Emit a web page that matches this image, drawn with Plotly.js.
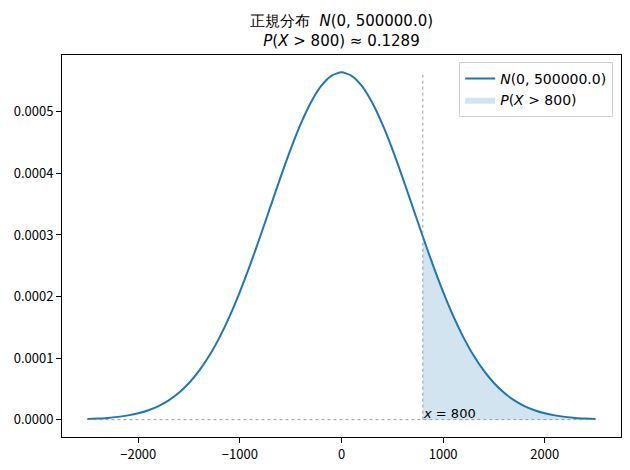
<!DOCTYPE html>
<html>
<head>
<meta charset="utf-8">
<script src="https://cdn.plot.ly/plotly-3.0.1.min.js"></script>
<style>
  html, body { margin: 0; padding: 0; background: #fff; }
  #chart { width: 630px; height: 470px; }
</style>
</head>
<body>
<div id="chart"></div>
<script>
// x positions and density values
const xVals = [
    -2500, -2400, -2300, -2200, -2100, -2000, -1900, -1800, -1700, -1600,
    -1500, -1400, -1300, -1200, -1100, -1000, -900, -800, -700, -600,
    -500, -400, -300, -200, -100, 0, 100, 200, 300, 400,
    500, 600, 700, 800, 900, 1000, 1100, 1200, 1300, 1400,
    1500, 1600, 1700, 1800, 1900, 2000, 2100, 2200, 2300, 2400, 2500
];
const density = [
    0.0000011, 0.0000018, 0.0000028, 0.0000045, 0.0000069, 0.0000103, 0.0000153, 0.0000221, 0.0000314, 0.0000436,
    0.0000595, 0.0000795, 0.0001041, 0.0001337, 0.0001682, 0.0002076, 0.0002510, 0.0002975, 0.0003456, 0.0003936,
    0.0004394, 0.0004808, 0.0005156, 0.0005421, 0.0005586, 0.0005642, 0.0005586, 0.0005421, 0.0005156, 0.0004808,
    0.0004394, 0.0003936, 0.0003456, 0.0002975, 0.0002510, 0.0002076, 0.0001682, 0.0001337, 0.0001041, 0.0000795,
    0.0000595, 0.0000436, 0.0000314, 0.0000221, 0.0000153, 0.0000103, 0.0000069, 0.0000045, 0.0000028, 0.0000018, 0.0000011
];
const threshold = 800;
const tailProb = 0.1289;

const xTickVals = [-2000, -1000, 0, 1000, 2000];
const xTickText = ["\u22122000", "\u22121000", "0", "1000", "2000"];
const yTickVals = [0, 0.0001, 0.0002, 0.0003, 0.0004, 0.0005];
const yTickText = ["0.0000", "0.0001", "0.0002", "0.0003", "0.0004", "0.0005"];

const blue = "#1f77b4";
const mathFont = "DejaVu Sans, sans-serif";
const tickFont = "Noto Sans CJK JP, sans-serif";

// tail region x >= threshold
const tailX = [], tailY = [];
xVals.forEach((x, i) => {
    if (x >= threshold) { tailX.push(x); tailY.push(density[i]); }
});
const peak = Math.max(...density);

const traces = [
    {
        x: xVals,
        y: density,
        mode: "lines",
        type: "scatter",
        line: { color: blue, width: 2, shape: "spline", smoothing: 0.6 },
        name: "<i>N</i>(0, 500000.0)",
        hoverinfo: "skip"
    },
    {
        x: tailX,
        y: tailY,
        mode: "lines",
        type: "scatter",
        fill: "tozeroy",
        fillcolor: "rgba(31,119,180,0.2)",
        line: { width: 0, shape: "spline", smoothing: 0.6 },
        name: "<i>P</i>(<i>X</i> > " + threshold + ")",
        hoverinfo: "skip"
    }
];

const layout = {
    width: 630,
    height: 470,
    margin: { l: 62, r: 9, t: 55, b: 33 },
    paper_bgcolor: "#fff",
    plot_bgcolor: "#fff",
    showlegend: true,
    title: {
        text: "正規分布  <i>N</i>(0, 500000.0)<br><i>P</i>(<i>X</i> > " + threshold + ") ≈ " + tailProb,
        font: { family: mathFont, size: 15, color: "#000" },
        x: 0.5,
        xref: "paper",
        xanchor: "center",
        y: 0.944,
        yref: "container",
        yanchor: "top"
    },
    xaxis: {
        range: [-2750, 2750],
        tickvals: xTickVals,
        ticktext: xTickText,
        ticks: "outside",
        ticklen: 5,
        tickcolor: "#000",
        showline: true,
        mirror: true,
        linecolor: "#000",
        linewidth: 1,
        showgrid: false,
        zeroline: false,
        tickfont: { family: tickFont, size: 13, color: "#000" }
    },
    yaxis: {
        range: [-0.0000282, 0.0005924],
        tickvals: yTickVals,
        ticktext: yTickText,
        ticks: "outside",
        ticklen: 5,
        tickcolor: "#000",
        showline: true,
        mirror: true,
        linecolor: "#000",
        linewidth: 1,
        showgrid: false,
        zeroline: false,
        tickfont: { family: tickFont, size: 13, color: "#000" }
    },
    legend: {
        x: 0.986,
        xanchor: "right",
        y: 0.982,
        yanchor: "top",
        bgcolor: "rgba(255,255,255,0.8)",
        bordercolor: "#d0d0d0",
        borderwidth: 1,
        font: { family: mathFont, size: 14, color: "#000" },
        tracegroupgap: 4
    },
    shapes: [
        {
            type: "line",
            x0: threshold, x1: threshold,
            y0: 0, y1: peak,
            xref: "x", yref: "y",
            line: { color: "#888", width: 0.8, dash: "dot" }
        },
        {
            type: "line",
            x0: xVals[0], x1: xVals[xVals.length - 1],
            y0: 0, y1: 0,
            xref: "x", yref: "y",
            line: { color: "#888", width: 0.8, dash: "dot" }
        }
    ],
    annotations: [
        {
            x: threshold,
            y: 0,
            xref: "x",
            yref: "y",
            text: "<i>x</i> = " + threshold,
            showarrow: false,
            xanchor: "left",
            yanchor: "bottom",
            xshift: -2,
            yshift: -3,
            font: { family: mathFont, size: 13, color: "#000" }
        }
    ]
};

Plotly.newPlot("chart", traces, layout, { displayModeBar: false, staticPlot: true });
</script>
</body>
</html>
